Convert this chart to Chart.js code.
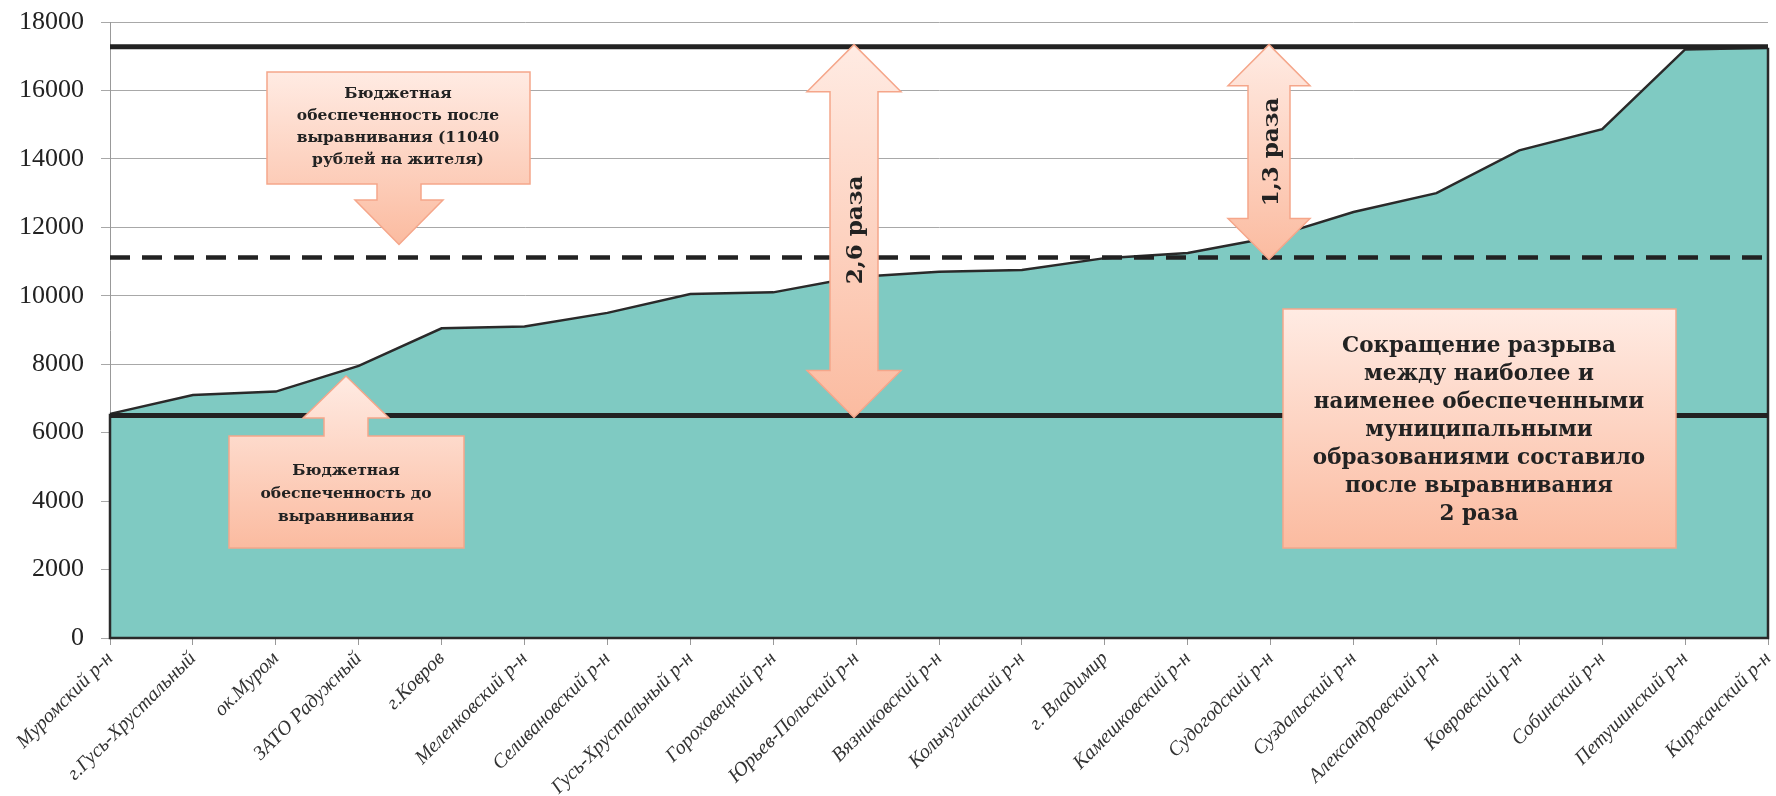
<!DOCTYPE html>
<html>
<head>
<meta charset="utf-8">
<script src="https://cdn.jsdelivr.net/npm/chart.js@4.4.1/dist/chart.umd.min.js"></script>
<style>
  html, body { margin: 0; padding: 0; background: #fff; }
  canvas { display: block; }
</style>
</head>
<body>
<canvas id="myChart" width="1776" height="796"></canvas>
<script>
// municipalities, sorted by budget provision after equalization
const categories = [
  'Муромский р-н', 'г.Гусь-Хрустальный', 'ок.Муром', 'ЗАТО Радужный', 'г.Ковров',
  'Меленковский р-н', 'Селивановский р-н', 'Гусь-Хрустальный р-н', 'Гороховецкий р-н',
  'Юрьев-Польский р-н', 'Вязниковский р-н', 'Кольчугинский р-н', 'г. Владимир',
  'Камешковский р-н', 'Судогодский р-н', 'Суздальский р-н', 'Александровский р-н',
  'Ковровский р-н', 'Собинский р-н', 'Петушинский р-н', 'Киржачский р-н'
];
const values = [
  6550, 7100, 7200, 7950, 9050, 9100, 9500, 10050, 10100, 10550,
  10700, 10750, 11100, 11250, 11700, 12450, 13000, 14250, 14870, 17200, 17250
];
const maxLevel = [17280];   // top black line
const avgLevel = [11120];   // dashed line (11040 rub.)
const minLevel = [6500];    // bottom black line
const yTickValues = [0, 2000, 4000, 6000, 8000, 10000, 12000, 14000, 16000, 18000];

const flat = v => categories.map(() => v);

function grad(ctx, top, bottom) {
  const g = ctx.createLinearGradient(0, top, 0, bottom);
  g.addColorStop(0, '#ffebe3');
  g.addColorStop(1, '#fbbba0');
  return g;
}
function shape(ctx, pts) {
  let top = Infinity, bottom = -Infinity;
  pts.forEach(p => { top = Math.min(top, p[1]); bottom = Math.max(bottom, p[1]); });
  ctx.beginPath();
  pts.forEach((p, i) => i ? ctx.lineTo(p[0], p[1]) : ctx.moveTo(p[0], p[1]));
  ctx.closePath();
  ctx.fillStyle = grad(ctx, top, bottom);
  ctx.fill();
  ctx.lineWidth = 1.5;
  ctx.strokeStyle = '#f5a68a';
  ctx.stroke();
}
function lines(ctx, txt, cx, y0, step, size) {
  ctx.font = 'bold ' + size + 'px "DejaVu Serif"';
  ctx.fillStyle = '#222';
  ctx.textAlign = 'center';
  ctx.textBaseline = 'middle';
  txt.forEach((t, i) => ctx.fillText(t, cx, y0 + i * step));
}
function dblArrow(ctx, cx, t, b, sh, hh, hl) {
  shape(ctx, [[cx, t], [cx + hh, t + hl], [cx + sh, t + hl], [cx + sh, b - hl], [cx + hh, b - hl],
    [cx, b], [cx - hh, b - hl], [cx - sh, b - hl], [cx - sh, t + hl], [cx - hh, t + hl]]);
}
function vText(ctx, t, x, y) {
  ctx.save();
  ctx.translate(x, y);
  ctx.rotate(-Math.PI / 2);
  ctx.font = 'bold 23px "DejaVu Serif"';
  ctx.fillStyle = '#222';
  ctx.textAlign = 'center';
  ctx.textBaseline = 'middle';
  ctx.fillText(t, 0, 0);
  ctx.restore();
}

// dark outline round the area (left, bottom, right edges)
const areaEdge = {
  id: 'areaEdge',
  afterDatasetDraw(chart, args) {
    if (args.index !== 0) return;
    const pts = args.meta.data;
    const base = chart.scales.y.getPixelForValue(0);
    const a = pts[0], z = pts[pts.length - 1];
    const ctx = chart.ctx;
    ctx.save();
    ctx.strokeStyle = '#2a2a2a';
    ctx.lineWidth = 2.5;
    ctx.beginPath();
    ctx.moveTo(a.x, a.y); ctx.lineTo(a.x, base); ctx.lineTo(z.x, base); ctx.lineTo(z.x, z.y);
    ctx.stroke();
    ctx.restore();
  }
};

const notes = {
  id: 'notes',
  afterDatasetsDraw(chart) {
    const ctx = chart.ctx;
    const y = chart.scales.y;
    const yMax = y.getPixelForValue(maxLevel[0]);
    const yAvg = y.getPixelForValue(avgLevel[0]);
    const yMin = y.getPixelForValue(minLevel[0]);
    ctx.save();
    // after equalization callout
    shape(ctx, [[267, 72], [530, 72], [530, 184], [421, 184], [421, 200], [443, 200], [399, yAvg - 13],
      [355, 200], [377, 200], [377, 184], [267, 184]]);
    lines(ctx, ['Бюджетная', 'обеспеченность после', 'выравнивания (11040', 'рублей на жителя)'], 398, 94, 22, 15.5);
    // before equalization callout
    shape(ctx, [[229, 436], [324, 436], [324, 418], [303, 418], [346, 376], [389, 418], [368, 418],
      [368, 436], [464, 436], [464, 548], [229, 548]]);
    lines(ctx, ['Бюджетная', 'обеспеченность до', 'выравнивания'], 346, 471, 23, 15.5);
    // double arrows
    dblArrow(ctx, 854, yMax - 2, yMin + 2, 24, 47, 47);
    vText(ctx, '2,6 раза', 856, 230);
    dblArrow(ctx, 1269, yMax - 2, yAvg + 2, 21, 41, 41);
    vText(ctx, '1,3 раза', 1272, 152);
    // summary box
    shape(ctx, [[1283, 309], [1676, 309], [1676, 548], [1283, 548]]);
    lines(ctx, ['Сокращение разрыва', 'между наиболее и', 'наименее обеспеченными', 'муниципальными',
      'образованиями составило', 'после выравнивания', '2 раза'], 1479, 346, 28, 21.5);
    ctx.restore();
  }
};

const ctx = document.getElementById('myChart').getContext('2d');
const myChart = new Chart(ctx, {
  type: 'line',
  data: {
    labels: categories,
    datasets: [{
      data: values,
      fill: 'origin',
      backgroundColor: '#7fcac2',
      borderColor: '#2a2a2a',
      borderWidth: 2.5,
      pointRadius: 0,
      tension: 0,
      order: 10
    }, {
      data: flat(maxLevel[0]),
      borderColor: '#222',
      borderWidth: 5,
      pointRadius: 0,
      fill: false,
      order: 1
    }, {
      data: flat(avgLevel[0]),
      borderColor: '#222',
      borderWidth: 4.5,
      borderDash: [20, 12],
      pointRadius: 0,
      fill: false,
      order: 1
    }, {
      data: flat(minLevel[0]),
      borderColor: '#222',
      borderWidth: 5,
      pointRadius: 0,
      fill: false,
      order: 1
    }]
  },
  options: {
    responsive: false,
    animation: false,
    devicePixelRatio: 1,
    layout: { padding: { top: 22, right: 8, left: 0, bottom: 0 } },
    plugins: { legend: { display: false }, tooltip: { enabled: false } },
    scales: {
      x: {
        grid: { display: true, drawOnChartArea: false, drawTicks: true, tickLength: 7, color: '#999' },
        border: { display: true, color: '#999' },
        ticks: {
          minRotation: 45, maxRotation: 45, autoSkip: false, padding: 2,
          color: '#333',
          font: { family: '"Liberation Serif"', style: 'italic', size: 20 }
        },
        afterFit: s => { s.height = 158; s.paddingLeft = 0; s.paddingRight = 0; }
      },
      y: {
        min: 0, max: 18000,
        afterBuildTicks: s => { s.ticks = yTickValues.map(v => ({ value: v })); },
        grid: { color: '#a8a8a8', lineWidth: 1, tickLength: 9 },
        border: { display: true, color: '#999' },
        ticks: {
          padding: 17, color: '#222',
          callback: v => String(v),
          font: { family: '"Liberation Serif"', size: 26 }
        },
        afterFit: s => { s.width = 110; s.paddingTop = 0; s.paddingBottom = 0; }
      }
    }
  },
  plugins: [areaEdge, notes]
});
</script>
</body>
</html>
